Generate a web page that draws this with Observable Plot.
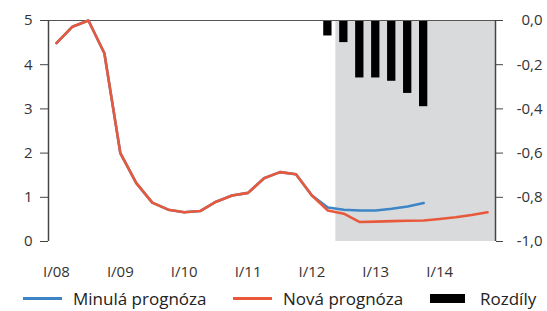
<!DOCTYPE html>
<html><head><meta charset="utf-8">
<script src="https://cdn.jsdelivr.net/npm/d3@7"></script>
<script src="https://cdn.jsdelivr.net/npm/@observablehq/plot@0.6"></script>
<style>
body{margin:0;background:#fff;font-family:"Open Sans",sans-serif;}
#wrap{position:relative;width:547px;height:311px;overflow:hidden;}
.leg{position:absolute;top:289px;height:18px;display:flex;align-items:center;font-size:17px;color:#222;white-space:nowrap;}
.sw{display:inline-block;margin-right:11px;}
</style></head><body>
<div id="wrap"><div id="chart"></div>
<div class="leg" style="left:23px"><span class="sw" style="width:39px;height:3px;background:#3d85c6"></span>Minulá prognóza</div>
<div class="leg" style="left:233px"><span class="sw" style="width:39px;height:3px;background:#e8593c"></span>Nová prognóza</div>
<div class="leg" style="left:430px"><span class="sw" style="width:35px;height:9px;background:#000;margin-right:15px"></span>Rozdíly</div>
</div>
<script>
const quarters = ["I/08","II/08","III/08","IV/08","I/09","II/09","III/09","IV/09",
  "I/10","II/10","III/10","IV/10","I/11","II/11","III/11","IV/11",
  "I/12","II/12","III/12","IV/12","I/13","II/13","III/13","IV/13",
  "I/14","II/14","III/14","IV/14"];
const novaPrognoza = [4.49,4.86,5.0,4.26,2.0,1.32,0.88,0.72,
  0.66,0.69,0.90,1.04,1.10,1.43,1.57,1.52,
  1.04,0.70,0.63,0.44,0.45,0.46,0.47,0.475,
  0.51,0.55,0.60,0.66];
const minulaPrognoza = [4.49,4.86,5.0,4.26,2.0,1.32,0.88,0.72,
  0.66,0.69,0.90,1.04,1.10,1.43,1.57,1.52,
  1.04,0.77,0.72,0.70,0.70,0.74,0.79,0.87,
  null,null,null,null];
const rozdilyQuarters = ["II/12","III/12","IV/12","I/13","II/13","III/13","IV/13"];
const rozdily = [-0.07,-0.10,-0.26,-0.26,-0.275,-0.33,-0.39];
const xTickLabels = ["I/08","I/09","I/10","I/11","I/12","I/13","I/14"];
const leftTicks = [0,1,2,3,4,5];
const rightTicks = [0,-0.2,-0.4,-0.6,-0.8,-1.0];
const lastActual = "II/12";

const qi = q => quarters.indexOf(q);
// right axis (differences) maps 0 → 5 and -1 → 0 on the left scale
const toLeft = d => 5 * (1 + d);
const fmtRight = v => (Math.round((v / 5 - 1) * 10) / 10).toFixed(1).replace(".", ",");

const nova = quarters.map((q, i) => ({q, v: novaPrognoza[i]}));
const minula = quarters.map((q, i) => ({q, v: minulaPrognoza[i]})).filter(d => d.v != null);
const diffs = rozdilyQuarters.map((q, i) => ({q, v: rozdily[i]}));
const x0 = -0.5, x1 = quarters.length - 0.5;

const chart = Plot.plot({
  width: 547, height: 285,
  marginLeft: 48, marginRight: 52, marginTop: 20, marginBottom: 44,
  style: {fontFamily: "'Open Sans', sans-serif", fontSize: "15px", color: "#333", background: "transparent"},
  x: {type: "linear", domain: [x0, x1]},
  y: {domain: [0, 5]},
  marks: [
    Plot.rect([lastActual], {x1: d => qi(d) + 0.5, x2: x1, y1: 0, y2: 5, fill: "#d9dadc"}),
    Plot.rect(diffs, {x1: d => qi(d.q) - 0.26, x2: d => qi(d.q) + 0.26, y1: 5, y2: d => toLeft(d.v), fill: "#000"}),
    Plot.ruleY([5], {x1: x0, x2: x1, stroke: "#555", strokeWidth: 1.2}),
    Plot.line(minula, {x: d => qi(d.q), y: "v", stroke: "#3d85c6", strokeWidth: 2.6}),
    Plot.line(nova, {x: d => qi(d.q), y: "v", stroke: "#e8593c", strokeWidth: 2.6}),
    Plot.ruleX([x0, x1], {y1: 0, y2: 5, stroke: "#444", strokeWidth: 1.5}),
    Plot.axisY(leftTicks, {anchor: "left", tickSize: 8, tickPadding: 8, stroke: "#444", label: null}),
    Plot.axisY(rightTicks.map(toLeft), {anchor: "right", tickSize: 7, tickPadding: 40, textAnchor: "end", stroke: "#444", tickFormat: fmtRight, label: null}),
    Plot.axisX(xTickLabels.map(qi), {anchor: "bottom", tickSize: 0, tickPadding: 25, tickFormat: v => quarters[v], label: null})
  ]
});
document.getElementById("chart").appendChild(chart);
</script>
</body></html>
